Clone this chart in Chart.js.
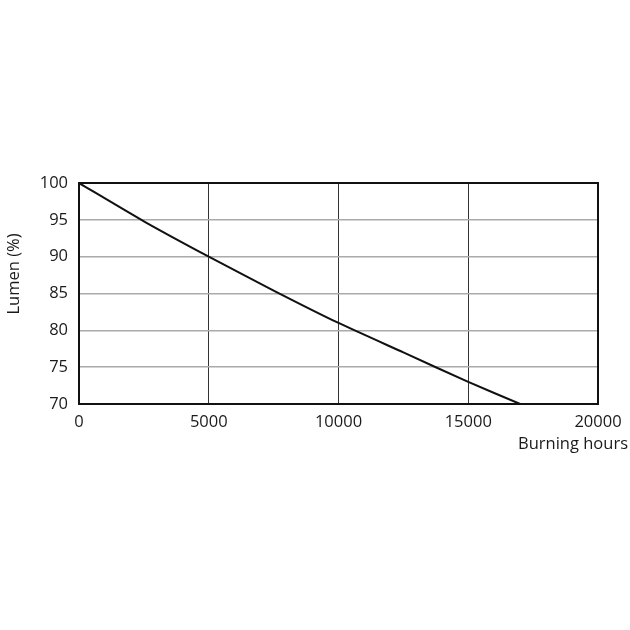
<!DOCTYPE html>
<html><head><meta charset="utf-8">
<script src="https://cdn.jsdelivr.net/npm/chart.js@4/dist/chart.umd.min.js"></script>
<style>html,body{margin:0;padding:0;background:#fff}#wrap{width:630px;height:630px}</style>
</head><body><div id="wrap"><canvas id="c" width="630" height="630"></canvas></div>
<script>
const hours = [0, 2500, 5000, 7500, 10000, 12500, 15000, 17000];
const lumen = [100, 94.8, 90, 85.4, 81, 77, 73, 70];
const xTicks = [0, 5000, 10000, 15000, 20000];
const yTicks = [70, 75, 80, 85, 90, 95, 100];
const yTitle = 'Lumen (%)';
const xTitle = 'Burning hours';
const FONT = "'Open Sans', 'DejaVu Sans', sans-serif";

const framePlugin = {
  id: 'frame',
  beforeDatasetsDraw(chart) {
    const {ctx, chartArea: a} = chart;
    ctx.save();
    ctx.strokeStyle = '#111';
    ctx.lineWidth = 2;
    ctx.strokeRect(a.left, a.top, a.right - a.left, a.bottom - a.top);
    ctx.restore();
  },
  afterDraw(chart) {
    const {ctx} = chart;
    ctx.save();
    ctx.fillStyle = '#1a1a1a';
    ctx.font = '16.5px ' + FONT;
    ctx.textAlign = 'right';
    ctx.textBaseline = 'middle';
    ctx.fillText(xTitle, 628, 444);
    ctx.translate(14, 274);
    ctx.rotate(-Math.PI / 2);
    ctx.textAlign = 'center';
    ctx.fillText(yTitle, 0, 0);
    ctx.restore();
  }
};

new Chart(document.getElementById('c'), {
  type: 'line',
  data: {
    datasets: [{
      data: hours.map((h, i) => ({x: h, y: lumen[i]})),
      borderColor: '#111',
      borderWidth: 2,
      pointRadius: 0,
      tension: 0.2,
      fill: false
    }]
  },
  options: {
    responsive: false,
    animation: false,
    layout: {padding: {left: 0, top: 183, right: 32, bottom: 0}},
    plugins: {legend: {display: false}, tooltip: {enabled: false}},
    scales: {
      x: {
        type: 'linear', min: 0, max: 20000,
        afterBuildTicks(s) { s.ticks = xTicks.map(v => ({value: v})); },
        afterFit(s) { s.height = 226; },
        grid: {color: '#333', lineWidth: 1, drawTicks: false},
        border: {display: false},
        ticks: {color: '#1a1a1a', padding: 8, maxRotation: 0, font: {size: 16.5, family: FONT},
          callback: v => String(v)}
      },
      y: {
        min: 70, max: 100,
        afterBuildTicks(s) { s.ticks = yTicks.map(v => ({value: v})); },
        afterFit(s) { s.width = 79; },
        grid: {color: '#aaa', lineWidth: 1.5, drawTicks: false},
        border: {display: false},
        ticks: {color: '#1a1a1a', padding: 11, font: {size: 16.5, family: FONT}}
      }
    }
  },
  plugins: [framePlugin]
});
</script></body></html>
